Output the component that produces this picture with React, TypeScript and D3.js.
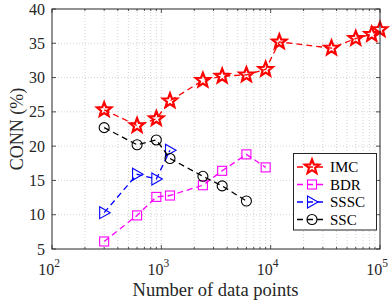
import React from "react";
import * as d3 from "d3";

const imcX = [300, 600, 900, 1200, 2400, 3600, 6000, 9000, 12000, 36000, 60000, 84000, 100000];
const imcY = [25.3, 23.0, 24.0, 26.6, 29.6, 30.2, 30.4, 31.2, 35.2, 34.3, 35.7, 36.3, 37.0];
const bdrX = [300, 600, 900, 1200, 2400, 3600, 6000, 9000];
const bdrY = [6.1, 9.9, 12.6, 12.8, 14.3, 16.4, 18.8, 16.9];
const ssscX = [300, 600, 900, 1200];
const ssscY = [10.3, 15.9, 15.2, 19.4];
const sscX = [300, 600, 900, 1200, 2400, 3600, 6000];
const sscY = [22.7, 20.2, 20.9, 18.2, 15.6, 14.2, 12.0];

const yTicks = [5, 10, 15, 20, 25, 30, 35, 40];
const xMajor = [100, 1000, 10000, 100000];
const xExp = ["2", "3", "4", "5"];
const legendNames = ["IMC", "BDR", "SSSC", "SSC"];

const W = 391, H = 305;
const L = 52, R = 380, T = 9, B = 249;
const AX = "#262626";
const FONT = '"Liberation Serif", "DejaVu Serif", serif';

function starPath(cx: number, cy: number, ro: number, ri: number) {
  const pts: string[] = [];
  for (let i = 0; i < 10; i++) {
    const r = i % 2 === 0 ? ro : ri;
    const a = -Math.PI / 2 + (i * Math.PI) / 5;
    pts.push(`${(cx + r * Math.cos(a)).toFixed(2)},${(cy + r * Math.sin(a)).toFixed(2)}`);
  }
  return "M" + pts.join("L") + "Z";
}

function Marker({ kind, x, y, color }: { kind: string; x: number; y: number; color: string }) {
  if (kind === "star")
    return <path d={starPath(x, y, 7.5, 3.2)} fill="none" stroke={color} strokeWidth={2.2} strokeLinejoin="miter" />;
  if (kind === "square")
    return <rect x={x - 4.5} y={y - 4.5} width={9} height={9} fill="none" stroke={color} strokeWidth={1.1} />;
  if (kind === "tri")
    return <path d={`M${x - 4.5},${y - 6}L${x + 6},${y}L${x - 4.5},${y + 6}Z`} fill="none" stroke={color} strokeWidth={1.1} />;
  return <circle cx={x} cy={y} r={5} fill="none" stroke={color} strokeWidth={1.1} />;
}

export default function App() {
  const x = d3.scaleLog().domain([100, 100000]).range([L, R]);
  const y = d3.scaleLinear().domain([5, 40]).range([B, T]);
  const line = d3.line<[number, number]>().x((d) => x(d[0])).y((d) => y(d[1]));

  const minor: number[] = [];
  for (let e = 2; e < 5; e++) for (let m = 2; m <= 9; m++) minor.push(m * Math.pow(10, e));

  const series = [
    { name: legendNames[0], xs: imcX, ys: imcY, color: "#ff0000", kind: "star" },
    { name: legendNames[1], xs: bdrX, ys: bdrY, color: "#ff00ff", kind: "square" },
    { name: legendNames[2], xs: ssscX, ys: ssscY, color: "#0000ff", kind: "tri" },
    { name: legendNames[3], xs: sscX, ys: sscY, color: "#000000", kind: "circle" },
  ];

  const legX = 293.5, legY = 153.5, legW = 83, legH = 76.5;
  const rowY = [167, 184.5, 202, 219.5];

  return (
    <svg width={W} height={H} style={{ position: "absolute", left: 0, top: 0, background: "#fff", fontFamily: FONT }}>
      <rect x={0} y={0} width={W} height={H} fill="#fff" />
      {[...minor, ...xMajor.slice(1, 3)].map((v, i) => (
        <line key={"gx" + i} x1={x(v)} x2={x(v)} y1={T} y2={B} stroke="#c8c8c8" strokeWidth={0.8} strokeDasharray="1,2" />
      ))}
      {yTicks.slice(1, -1).map((v, i) => (
        <line key={"gy" + i} x1={L} x2={R} y1={y(v)} y2={y(v)} stroke="#c8c8c8" strokeWidth={0.8} strokeDasharray="1,2" />
      ))}
      {minor.map((v, i) => (
        <g key={"mt" + i}>
          <line x1={x(v)} x2={x(v)} y1={B} y2={B - 2} stroke={AX} strokeWidth={0.8} />
          <line x1={x(v)} x2={x(v)} y1={T} y2={T + 2} stroke={AX} strokeWidth={0.8} />
        </g>
      ))}
      {xMajor.map((v, i) => (
        <g key={"xt" + i}>
          <line x1={x(v)} x2={x(v)} y1={B} y2={B - 4} stroke={AX} strokeWidth={0.8} />
          <line x1={x(v)} x2={x(v)} y1={T} y2={T + 4} stroke={AX} strokeWidth={0.8} />
          <text x={x(v) - 3} y={275} textAnchor="middle" fontSize={16} fill={AX} style={{ fontFamily: FONT }}>
            10
            <tspan dy={-8} fontSize={11.5}>{xExp[i]}</tspan>
          </text>
        </g>
      ))}
      {yTicks.map((v, i) => (
        <g key={"yt" + i}>
          <line x1={L} x2={L + 4} y1={y(v)} y2={y(v)} stroke={AX} strokeWidth={0.8} />
          <line x1={R} x2={R - 4} y1={y(v)} y2={y(v)} stroke={AX} strokeWidth={0.8} />
          <text x={45} y={y(v) + 5.5} textAnchor="end" fontSize={16} fill={AX} style={{ fontFamily: FONT }}>
            {v}
          </text>
        </g>
      ))}
      {series.map((s, si) => {
        const pts = s.xs.map((xv, i) => [xv, s.ys[i]] as [number, number]);
        return (
          <g key={"s" + si}>
            <path d={line(pts) || ""} fill="none" stroke={s.color} strokeWidth={1.3} strokeDasharray="6,4" />
            {pts.map((p, i) => (
              <Marker key={i} kind={s.kind} x={x(p[0])} y={y(p[1])} color={s.color} />
            ))}
          </g>
        );
      })}
      <rect x={L} y={T} width={R - L} height={B - T} fill="none" stroke={AX} strokeWidth={1} />
      <rect x={legX} y={legY} width={legW} height={legH} fill="#fff" stroke={AX} strokeWidth={1} />
      {series.map((s, i) => (
        <g key={"lg" + i}>
          <line x1={297} x2={327} y1={rowY[i]} y2={rowY[i]} stroke={s.color} strokeWidth={1.3} strokeDasharray="6,4" />
          <Marker kind={s.kind} x={312} y={rowY[i]} color={s.color} />
          <text x={330} y={rowY[i] + 5} fontSize={15} fill="#000" style={{ fontFamily: FONT }}>
            {s.name}
          </text>
        </g>
      ))}
      <text x={215.5} y={296} textAnchor="middle" fontSize={18.5} fill={AX} style={{ fontFamily: FONT }}>
        Number of data points
      </text>
      <text transform={`translate(23,129) rotate(-90)`} textAnchor="middle" fontSize={18} fill={AX} style={{ fontFamily: FONT }}>
        CONN (%)
      </text>
    </svg>
  );
}
